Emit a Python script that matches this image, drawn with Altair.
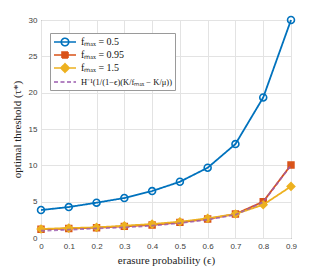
import altair as alt
import pandas as pd

eps = [0.0, 0.1, 0.2, 0.3, 0.4, 0.5, 0.6, 0.7, 0.8, 0.9]
tau_f05 = [3.85, 4.26, 4.86, 5.5, 6.46, 7.74, 9.67, 12.93, 19.34, 30.0]
tau_f095 = [1.2, 1.3, 1.42, 1.6, 1.8, 2.15, 2.62, 3.3, 5.0, 10.05]
tau_f15 = [1.24, 1.37, 1.46, 1.69, 1.92, 2.24, 2.7, 3.3, 4.58, 7.1]
tau_bound = [1.0, 1.14, 1.32, 1.46, 1.69, 2.06, 2.52, 3.2, 4.95, 10.0]

names = [
    "fₘₐₓ = 0.5",
    "fₘₐₓ = 0.95",
    "fₘₐₓ = 1.5",
    "H⁻¹(1/(1−ϵ)(K/fₘₐₓ − K/μ))",
]
colors = ["#0072BD", "#D95319", "#EDB120", "#9B5BAE"]
fills = ["transparent", "#D95319", "#EDB120", "transparent"]
marker_shapes = ["circle", "square", "diamond", None]
legend_paths = [
    "M-2.2,0H2.2M-0.75,0A0.75,0.75,0,1,0,0.75,0A0.75,0.75,0,1,0,-0.75,0Z",
    "M-2.2,0H2.2M-0.6,-0.6H0.6V0.6H-0.6Z",
    "M-2.2,0H2.2M0,-0.85L0.85,0L0,0.85L-0.85,0Z",
    "M-2.2,0H2.2",
]
dashes = [[1, 0], [1, 0], [1, 0], [4, 2.5]]
x_ticks = [0.0, 0.1, 0.2, 0.3, 0.4, 0.5, 0.6, 0.7, 0.8, 0.9]
y_ticks = [0, 5, 10, 15, 20, 25, 30]

series_vals = [tau_f05, tau_f095, tau_f15, tau_bound]
rows = []
for name, vals in zip(names, series_vals):
    for e, v in zip(eps, vals):
        rows.append({"eps": e, "tau": v, "series": name})
df = pd.DataFrame(rows)

x_axis = alt.Axis(values=x_ticks, format="~g", labelOverlap=False, tickCount=10,
                  labelFlush=False, title="erasure probability (ϵ)")
y_axis = alt.Axis(values=y_ticks, labelOverlap=False, labelFlush=False, tickCount=7,
                  title="optimal threshold (τ*)")
x_scale = alt.Scale(domain=[0, 0.9], nice=False, zero=False)
y_scale = alt.Scale(domain=[0, 30], nice=False)


def xe():
    return alt.X("eps:Q", scale=x_scale, axis=x_axis)


def ye():
    return alt.Y("tau:Q", scale=y_scale, axis=y_axis)


layers = []
for i, name in enumerate(names):
    base = alt.Chart(df).transform_filter(alt.datum.series == name)
    line = base.mark_line(
        color=colors[i], strokeWidth=1.8, strokeDash=dashes[i],
        opacity=0.8 if i == 3 else 1.0,
    ).encode(x=xe(), y=ye())
    layers.append(line)
    if marker_shapes[i] is not None:
        pts = base.mark_point(
            shape=marker_shapes[i], color=colors[i], filled=(i != 0),
            fill=fills[i], stroke=colors[i], strokeWidth=1.6,
            size=48 if i == 0 else (34 if i == 1 else 55), opacity=1,
        ).encode(x=xe(), y=ye())
        layers.append(pts)

# legend-only layer (no marks drawn, only the legend from the scales)
leg = alt.Chart(df).transform_filter("false").mark_point(strokeWidth=1.6, opacity=1).encode(
    x=xe(), y=ye(),
    color=alt.Color("series:N", scale=alt.Scale(domain=names, range=colors),
                    legend=alt.Legend(title=None)),
    fill=alt.Fill("series:N", scale=alt.Scale(domain=names, range=fills),
                  legend=alt.Legend(title=None)),
    shape=alt.Shape("series:N", scale=alt.Scale(domain=names, range=legend_paths),
                    legend=alt.Legend(title=None)),
    strokeDash=alt.StrokeDash("series:N", scale=alt.Scale(domain=names, range=dashes),
                              legend=alt.Legend(title=None)),
)
layers.append(leg)

chart = alt.layer(*layers).properties(
    width=250, height=218,
    autosize=alt.AutoSizeParams(type="none"),
    padding={"left": 33, "top": 12, "right": 20, "bottom": 30},
).configure_view(stroke="#5a5a5a", strokeWidth=1).configure_axis(
    grid=True, gridColor="#e3e3e3", gridWidth=1, domain=False, ticks=False,
    labelFont="Liberation Sans", labelFontSize=8, labelColor="#404040", labelPadding=4,
    labelOverlap=False,
    titleFont="Liberation Serif", titleFontSize=11, titleFontWeight="normal", titleColor="#222",
).configure_axisY(titlePadding=6).configure_axisX(titlePadding=4).configure_legend(
    orient="none", legendX=9, legendY=13, padding=3,
    strokeColor="#9a9a9a", fillColor="white",
    symbolType="circle", symbolSize=100, symbolStrokeWidth=1.6,
    symbolOffset=6, labelOffset=10, rowPadding=-3,
    labelFont="Liberation Serif",
    labelFontSize=alt.ExprRef("datum.index == 3 ? 8.5 : 10"),
    labelColor="#111", labelLimit=300,
)

chart.save("out.html", embed_options={"renderer": "svg", "actions": False})
